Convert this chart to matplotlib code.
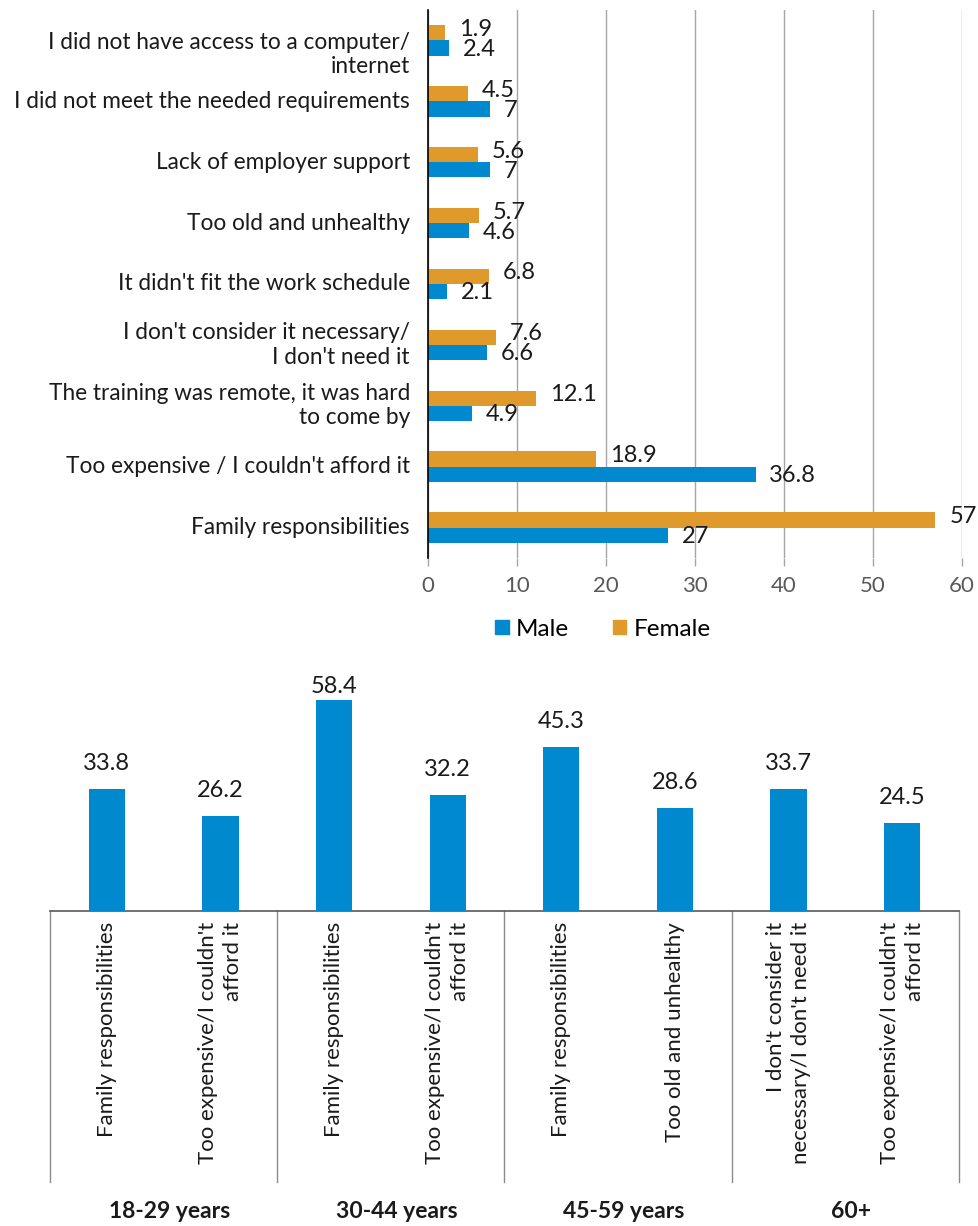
import matplotlib
matplotlib.use("Agg")
import matplotlib.pyplot as plt
import matplotlib.transforms as mtransforms
from matplotlib.patches import Patch

plt.rcParams['font.family'] = ['Lato', 'DejaVu Sans']

# ---------------- data ----------------
reasons = [
    "I did not have access to a computer/\ninternet",
    "I did not meet the needed requirements",
    "Lack of employer support",
    "Too old and unhealthy",
    "It didn't fit the work schedule",
    "I don't consider it necessary/\nI don't need it",
    "The training was remote, it was hard\nto come by",
    "Too expensive / I couldn't afford it",
    "Family responsibilities",
]
female = [1.9, 4.5, 5.6, 5.7, 6.8, 7.6, 12.1, 18.9, 57]
male = [2.4, 7, 7, 4.6, 2.1, 6.6, 4.9, 36.8, 27]
x_ticks = [0, 10, 20, 30, 40, 50, 60]

age_groups = ["18-29 years", "30-44 years", "45-59 years", "60+"]
age_reasons = [
    "Family responsibilities",
    "Too expensive/I couldn't\nafford it",
    "Family responsibilities",
    "Too expensive/I couldn't\nafford it",
    "Family responsibilities",
    "Too old and unhealthy",
    "I don't consider it\nnecessary/I don't need it",
    "Too expensive/I couldn't\nafford it",
]
age_values = [33.8, 26.2, 58.4, 32.2, 45.3, 28.6, 33.7, 24.5]

BLUE = "#0089CF"
ORANGE = "#E09A2B"
GRID = "#A6A6A6"
TXT = "#1a1a1a"

W, H = 979, 1226
fig = plt.figure(figsize=(W / 100, H / 100), dpi=100)

# ---------------- top chart ----------------
l, r, t, b = 428, 962, 10, 558
ax1 = fig.add_axes([l / W, 1 - b / H, (r - l) / W, (b - t) / H])
n = len(reasons)
pos = list(range(n))
bh = 0.25
fpos = [p - bh / 2 for p in pos]
mpos = [p + bh / 2 for p in pos]
ax1.barh(fpos, female, height=bh, color=ORANGE, label="Female", zorder=3)
ax1.barh(mpos, male, height=bh, color=BLUE, label="Male", zorder=3)
ax1.set_ylim(n - 0.5, -0.5)
ax1.set_xlim(0, 60)
ax1.set_xticks(x_ticks)
ax1.set_xticklabels([str(v) for v in x_ticks], fontsize=16, color="#595959")
ax1.tick_params(axis="x", length=6, color=GRID, width=1, pad=7)
ax1.tick_params(axis="y", length=0)
ax1.set_yticks([])
ax1.grid(axis="x", color=GRID, linewidth=1, zorder=0)
for s in ["top", "right", "bottom"]:
    ax1.spines[s].set_visible(False)
ax1.spines["left"].set_color("black")
ax1.spines["left"].set_linewidth(1.2)
ax1.spines["left"].set_zorder(4)

for i, lab in enumerate(reasons):
    dy = -10 if i == 0 else 0
    ax1.annotate(lab, xy=(0, pos[i]), xytext=(-13, dy), textcoords="offset points",
                 ha="right", va="center", fontsize=16.3, color=TXT, linespacing=1.2,
                 multialignment="right")

for yv, v in zip(fpos, female):
    ax1.annotate(f"{v:g}", xy=(v, yv), xytext=(10, 2.5), textcoords="offset points",
                 ha="left", va="center", fontsize=17, color=TXT)
for yv, v in zip(mpos, male):
    ax1.annotate(f"{v:g}", xy=(v, yv), xytext=(10, -1), textcoords="offset points",
                 ha="left", va="center", fontsize=17, color=TXT)

handles = [Patch(color=BLUE, label="Male"), Patch(color=ORANGE, label="Female")]
fig.legend(handles=handles, loc="center", bbox_to_anchor=(603 / W, 1 - 629 / H),
           ncol=2, frameon=False, fontsize=17.5, handlelength=0.55, handleheight=0.55,
           handletextpad=0.3, columnspacing=1.8)

# ---------------- bottom chart ----------------
l2, r2, t2, b2 = 50, 959, 680, 911
ax2 = fig.add_axes([l2 / W, 1 - b2 / H, (r2 - l2) / W, (b2 - t2) / H])
xs = list(range(len(age_values)))
ax2.bar(xs, age_values, width=0.32, color=BLUE, zorder=3)
ymax = (b2 - t2) / 3.61
ax2.set_xlim(-0.5, len(age_values) - 0.5)
ax2.set_ylim(0, ymax)
ax2.set_xticks([])
ax2.set_yticks([])
for s in ["top", "right", "left"]:
    ax2.spines[s].set_visible(False)
ax2.spines["bottom"].set_color("#595959")
ax2.spines["bottom"].set_linewidth(1.2)

# labels sit ~19 px above the bar, but are kept inside the plot area
gap = 19 / 3.61
cap = ymax - 3.6
for xv, v in zip(xs, age_values):
    ax2.text(xv, min(v + gap, cap), f"{v:g}", ha="center", va="baseline",
             fontsize=17, color=TXT)

for xv, lab in zip(xs, age_reasons):
    ax2.annotate(lab, xy=(xv, 0), xytext=(0, -8), textcoords="offset points",
                 ha="center", va="top", rotation=90, fontsize=16, color=TXT,
                 linespacing=1.3, multialignment="right")

trans = mtransforms.blended_transform_factory(ax2.transData, fig.transFigure)
groups_per = 2
sep_x = [-0.5 + k * groups_per for k in range(len(age_groups) + 1)]
for sx in sep_x:
    ax2.plot([sx, sx], [1 - b2 / H, 1 - 1182 / H], transform=trans, color="#8c8c8c",
             linewidth=1, clip_on=False)
for k, g in enumerate(age_groups):
    cx = -0.5 + k * groups_per + groups_per / 2 + 6 / 113.6
    ax2.text(cx, 1 - 1212 / H, g, transform=trans, ha="center", va="center",
             fontsize=16.5, fontweight="bold", color=TXT)

fig.savefig("out.png", dpi=100)
